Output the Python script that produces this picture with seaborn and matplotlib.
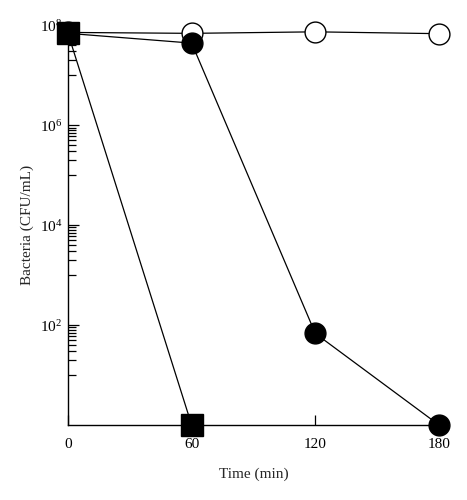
import numpy as np
import pandas as pd
import matplotlib
matplotlib.use("Agg")
import matplotlib.pyplot as plt
import seaborn as sns
from matplotlib.ticker import FixedLocator, FixedFormatter, NullFormatter

sns.set_style("white")
plt.rcParams['font.family'] = ['Liberation Serif', 'DejaVu Serif']
plt.rcParams['mathtext.fontset'] = 'custom'
plt.rcParams['mathtext.rm'] = 'Liberation Serif'
plt.rcParams['mathtext.it'] = 'Liberation Serif:italic'

# Data
time_min = [0, 60, 120, 180]
open_circle = [7.2e7, 6.9e7, 7.4e7, 6.8e7]
filled_circle = [6.9e7, 4.4e7, 68, 1]
square_time = [0, 60]
square_vals = [6.9e7, 1]

x_ticks = [0, 60, 120, 180]
y_major = [1e2, 1e4, 1e6, 1e8]
y_major_labels = [r'$\mathregular{10^{2}}$', r'$\mathregular{10^{4}}$',
                  r'$\mathregular{10^{6}}$', r'$\mathregular{10^{8}}$']

fig = plt.figure(figsize=(4.67, 5.0), dpi=100)
ax = fig.add_axes([0.1456, 0.15, 0.7944, 0.7994])

common = dict(color='black', linewidth=0.9, markersize=15, markeredgewidth=1.0,
              markeredgecolor='black', clip_on=False)
sns.lineplot(x=time_min, y=open_circle, marker='o', markerfacecolor='white', ax=ax, zorder=3, **common)
sns.lineplot(x=time_min, y=filled_circle, marker='o', markerfacecolor='black', ax=ax, zorder=4, **common)
sns.lineplot(x=square_time, y=square_vals, marker='s', markerfacecolor='black', ax=ax, zorder=5,
             **{**common, 'markersize': 15.5})

ax.set_yscale('log')
ax.set_xlim(0, 180)
ax.set_ylim(1, 1e8)

minor = []
for d in [1e1, 1e3, 1e5, 1e7]:
    for m in range(1, 10):
        minor.append(m * d)
ax.yaxis.set_major_locator(FixedLocator(y_major))
ax.yaxis.set_major_formatter(FixedFormatter(y_major_labels))
ax.yaxis.set_minor_locator(FixedLocator(minor))
ax.yaxis.set_minor_formatter(NullFormatter())

ax.set_xticks(x_ticks)
ax.set_xticklabels([str(t) for t in x_ticks])

ax.tick_params(axis='x', which='major', direction='in', length=7, width=0.9, bottom=True,
               labelsize=11, color='black', labelcolor='black', pad=9)
ax.tick_params(axis='y', which='major', direction='in', length=7.7, width=0.9, left=True,
               labelsize=11, color='black', labelcolor='black', pad=4)
ax.tick_params(axis='y', which='minor', direction='in', length=5.8, width=0.9, left=True, color='black')

for s in ['top', 'right']:
    ax.spines[s].set_visible(False)
for s in ['left', 'bottom']:
    ax.spines[s].set_color('black')
    ax.spines[s].set_linewidth(1.0)

ax.set_xlabel('Time (min)', fontsize=11, labelpad=12)
ax.set_ylabel('Bacteria (CFU/mL)', fontsize=11, labelpad=4)

fig.savefig('out.png', dpi=100, facecolor='white')
